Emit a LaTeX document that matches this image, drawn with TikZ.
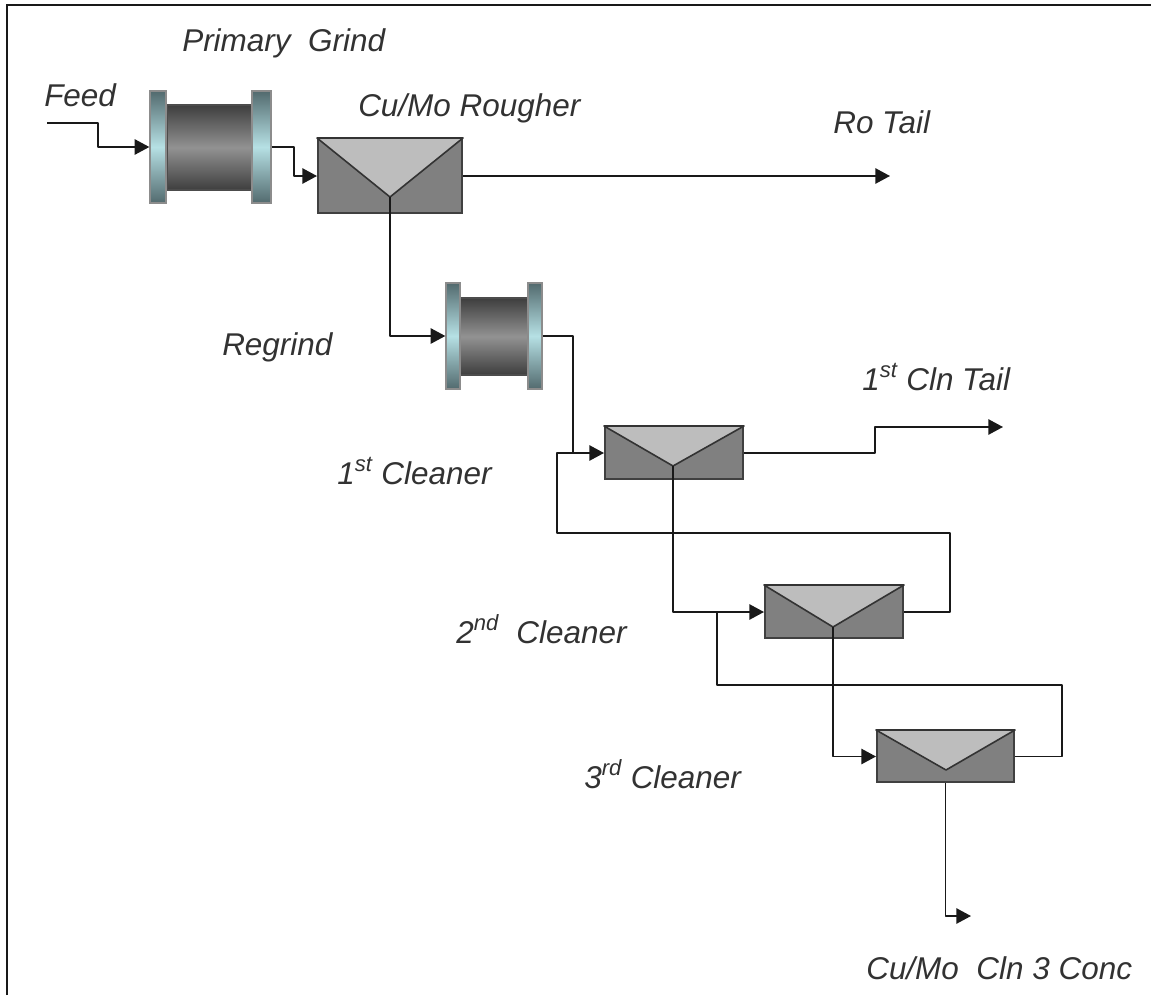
\documentclass[tikz,border=0pt]{standalone}
\usepackage{fontspec}
\setmainfont{Liberation Sans}
\usepackage{xcolor}
\usepackage{tikz}
\usetikzlibrary{arrows.meta, calc}

\begin{document}
\begin{tikzpicture}[x=0.75pt, y=-0.75pt]
    % --- GLOBAL DEFINITIONS ---
    \def\px{0.75pt} % One reference pixel

    % Custom colors
    \definecolor{cellbody}{RGB}{128, 128, 128}
    \definecolor{celltop}{RGB}{189, 189, 189}
    \definecolor{flangeedge}{RGB}{82, 106, 110}
    \definecolor{flangemid}{RGB}{182, 224, 228}
    \definecolor{drumedge}{RGB}{62, 62, 62}
    \definecolor{drummid}{RGB}{146, 146, 146}
    \definecolor{labelgrey}{RGB}{50, 50, 50}

    \tikzset{
        flowline/.style={draw=black!90, line width=1.25pt, line join=round},
        flowarrow/.style={flowline, -{Triangle[length=11pt, width=11.5pt]}},
        cellbox/.style={draw=black!75, line width=1.5pt, fill=cellbody, inner sep=0pt, rectangle},
        flange/.style={draw=black!45, line width=1pt, inner sep=0pt, rectangle, top color=flangeedge, bottom color=flangeedge, middle color=flangemid},
        drum/.style={draw=black!70, line width=1pt, inner sep=0pt, rectangle, top color=drumedge, bottom color=drumedge, middle color=drummid},
        tag/.style={anchor=base west, inner sep=0pt, text=labelgrey, font=\fontsize{23.6}{27}\selectfont\itshape}
    }

    % Light grey wedge of a flotation cell, apex given by a coordinate
    \newcommand{\cellwedge}[2]{%
        \coordinate (#1apex) at (#2);
        \draw[fill=celltop, draw=black!80, line width=1.2pt, line join=round] (#1.north west) -- (#1.north east) -- (#1apex) -- cycle;
    }

    \useasboundingbox (0,0) rectangle (1151,995);

    % FRAME
    \draw[draw=black!90, line width=1.6pt] (7,995) -- (7,5) -- (1151,5);

    % MILLS
    \node[drum, minimum width=85*\px, minimum height=85*\px] (grind) at (209.5,147.5) {};
    \node[flange, minimum width=16*\px, minimum height=112*\px] (grindL) at (158,147) {};
    \node[flange, minimum width=19*\px, minimum height=112*\px] (grindR) at (261.5,147) {};

    \node[drum, minimum width=68*\px, minimum height=77*\px] (regrind) at (494,336.5) {};
    \node[flange, minimum width=14*\px, minimum height=106*\px] (regrindL) at (453,336) {};
    \node[flange, minimum width=14*\px, minimum height=106*\px] (regrindR) at (535,336) {};

    % CELLS
    \node[cellbox, minimum width=144*\px, minimum height=74*\px] (rougher) at (390,176) {};
    \node[cellbox, minimum width=138*\px, minimum height=52*\px] (clnA) at (674,453) {};
    \node[cellbox, minimum width=138*\px, minimum height=52*\px] (clnB) at (834,612) {};
    \node[cellbox, minimum width=137*\px, minimum height=51*\px] (clnC) at (945.5,756.5) {};

    \cellwedge{rougher}{390,197}
    \cellwedge{clnA}{673,466}
    \cellwedge{clnB}{833,627}
    \cellwedge{clnC}{946,770}

    % STREAM END POINTS
    \coordinate (feedin) at (47,123);
    \coordinate (rotail) at (890,176);
    \coordinate (clntail) at (1003,427);
    \coordinate (conc) at (971,916);

    % MAIN FLOW
    \draw[flowarrow] (feedin) -- (98,123) |- (grindL.west);
    \draw[flowarrow] (grindR.east) -- (294,147) |- (rougher.west);
    \draw[flowarrow] (rougher.east) -- (rotail);
    \draw[flowarrow] (rougherapex) |- (regrindL.west);
    \draw[flowline] (regrindR.east) -- (573,336) -- (573,453);
    \draw[flowarrow] (clnA.east) -- (875,453) |- (clntail);
    \draw[flowarrow] (clnAapex) |- (clnB.west);
    \draw[flowarrow] (clnBapex) |- (clnC.west);
    \draw[flowarrow] (clnC.south) |- (conc);

    % RECYCLES
    \draw[flowarrow] (clnB.east) -- (950,612) -- (950,533) -- (557,533) |- (clnA.west);
    \draw[flowline] (clnC.east) -- (1062,756.5) -- (1062,685) -- (717,685) -- (717,612);

    % LABELS
    \node[tag] (tgrind) at (182,52) {Primary\ \ Grind};
    \node[tag] (tfeed) at (44,106.5) {Feed};
    \node[tag] (trougher) at (358,117) {Cu/Mo Rougher};
    \node[tag] (trotail) at (833,133) {Ro Tail};
    \node[tag] (tregrind) at (222,355) {Regrind};
    \node[tag] (tclntail) at (862,390) {1\textsuperscript{st} Cln Tail};
    \node[tag] (tclnA) at (337,484) {1\textsuperscript{st} Cleaner};
    \node[tag] (tclnB) at (456,643) {2\textsuperscript{nd}\ \ Cleaner};
    \node[tag] (tclnC) at (584,788) {3\textsuperscript{rd} Cleaner};
    \node[tag] (tconc) at (866,979) {Cu/Mo\ \ Cln 3 Conc};
\end{tikzpicture}
\end{document}
